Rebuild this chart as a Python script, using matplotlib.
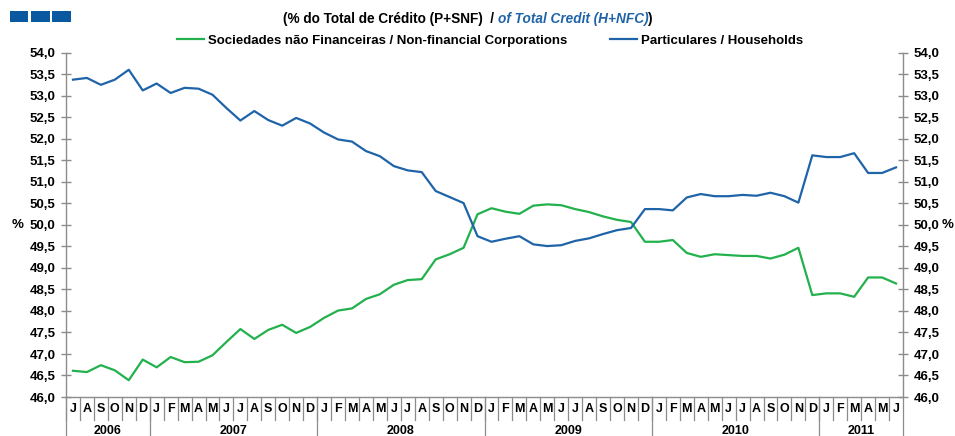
import matplotlib
matplotlib.use("Agg")
import matplotlib.pyplot as plt
import matplotlib.transforms as mtransforms
from matplotlib.patches import Rectangle
from matplotlib.ticker import FuncFormatter, MultipleLocator

plt.rcParams['font.family'] = ['Liberation Sans', 'DejaVu Sans']
plt.rcParams['font.weight'] = 'bold'

# monthly data, Jul 2006 .. Jun 2011
months = ['J', 'A', 'S', 'O', 'N', 'D'] + ['J', 'F', 'M', 'A', 'M', 'J', 'J', 'A', 'S', 'O', 'N', 'D'] * 4 + ['J', 'F', 'M', 'A', 'M', 'J']
years = ['2006', '2007', '2008', '2009', '2010', '2011']
year_len = [6, 12, 12, 12, 12, 6]

households = [53.38, 53.42, 53.26, 53.38, 53.61, 53.13, 53.29, 53.07, 53.19, 53.17,
              53.03, 52.72, 52.43, 52.65, 52.44, 52.31, 52.49, 52.36, 52.15, 51.99,
              51.94, 51.72, 51.60, 51.37, 51.27, 51.23, 50.79, 50.65, 50.51, 49.74,
              49.61, 49.68, 49.74, 49.55, 49.51, 49.53, 49.63, 49.69, 49.79, 49.88,
              49.93, 50.37, 50.37, 50.34, 50.64, 50.72, 50.67, 50.67, 50.70, 50.68,
              50.75, 50.67, 50.52, 51.62, 51.58, 51.58, 51.67, 51.21, 51.21, 51.34]
corporations = [46.61, 46.58, 46.74, 46.62, 46.39, 46.87, 46.69, 46.93, 46.81, 46.82,
                46.97, 47.28, 47.58, 47.35, 47.56, 47.68, 47.49, 47.63, 47.84, 48.01,
                48.06, 48.28, 48.39, 48.61, 48.72, 48.74, 49.20, 49.32, 49.47, 50.25,
                50.39, 50.31, 50.26, 50.45, 50.48, 50.46, 50.37, 50.30, 50.20, 50.12,
                50.07, 49.61, 49.61, 49.65, 49.35, 49.26, 49.32, 49.30, 49.28, 49.28,
                49.22, 49.31, 49.47, 48.37, 48.41, 48.41, 48.33, 48.78, 48.78, 48.64]

green = '#22b14c'
blue = '#1f64a8'
grey = '#8c8c8c'

W, H = 955, 436
fig = plt.figure(figsize=(W / 100, H / 100), dpi=100)
x0, x1, ytop, ybot = 66, 903, 53, 397
ax = fig.add_axes([x0 / W, (H - ybot) / H, (x1 - x0) / W, (ybot - ytop) / H])

x = list(range(len(months)))
l1, = ax.plot(x, corporations, color=green, lw=1.6, label='Sociedades não Financeiras / Non-financial Corporations')
l2, = ax.plot(x, households, color=blue, lw=1.6, label='Particulares / Households')

ax.set_xlim(-0.5, len(months) - 0.5)
ax.set_ylim(46, 54)
ax.yaxis.set_major_locator(MultipleLocator(0.5))
ax.yaxis.set_major_formatter(FuncFormatter(lambda v, p: f'{v:.1f}'.replace('.', ',')))
ax.tick_params(axis='y', left=True, right=True, labelleft=True, labelright=True,
               direction='inout', length=7, width=1, color=grey, labelsize=9.5, pad=4)
ax.set_xticks([])
ax.spines['top'].set_visible(False)
for s in ['left', 'right', 'bottom']:
    ax.spines[s].set_color(grey)
    ax.spines[s].set_linewidth(1)

# '%' unit labels on both sides, level with 50,0
fig.text(18 / W, 1 - 225 / H, '%', ha='center', va='center', fontsize=9.5)
fig.text(953 / W, 1 - 225 / H, '%', ha='right', va='center', fontsize=9.5)

# category axis: month letters and year blocks
tr = mtransforms.blended_transform_factory(ax.transData, ax.transAxes)
px = 1.0 / (ybot - ytop)
for i, m in enumerate(months):
    ax.text(i, -12 * px, m, transform=tr, ha='center', va='center', fontsize=9)
    ax.plot([i - 0.5, i - 0.5], [0, -23 * px], transform=tr, color=grey, lw=0.9, clip_on=False)
start = 0
for yr, n in zip(years, year_len):
    ax.text(start + n / 2 - 0.5, -34 * px, yr, transform=tr, ha='center', va='center', fontsize=9)
    ax.plot([start - 0.5, start - 0.5], [0, -40 * px], transform=tr, color=grey, lw=0.9, clip_on=False)
    start += n
ax.plot([start - 0.5, start - 0.5], [0, -40 * px], transform=tr, color=grey, lw=0.9, clip_on=False)

# logo squares
for lx in [9.5, 31, 52]:
    fig.patches.append(Rectangle((lx / W, 1 - 22 / H), 18.5 / W, 11 / H, transform=fig.transFigure,
                                 facecolor='#0a58a0', edgecolor='none'))

# title in pieces
t1 = fig.text(283 / W, 1 - 19 / H, '(% do Total de Crédito (P+SNF)  / ', ha='left', va='center', fontsize=9.8)
t2 = ax.annotate('of Total Credit (H+NFC)', xy=(1, 0), xycoords=t1, va='bottom', ha='left',
                 fontsize=9.8, style='italic', color=blue, annotation_clip=False)
t3 = ax.annotate(')', xy=(1, 0), xycoords=t2, va='bottom', ha='left', fontsize=9.8, annotation_clip=False)

fig.legend(handles=[l1, l2], loc='center', bbox_to_anchor=(490 / W, 1 - 41 / H), ncol=2,
           frameon=False, fontsize=9.5, handlelength=2.0, handletextpad=0.3, columnspacing=3.3,
           borderaxespad=0, borderpad=0)

fig.savefig('out.png', dpi=100)
